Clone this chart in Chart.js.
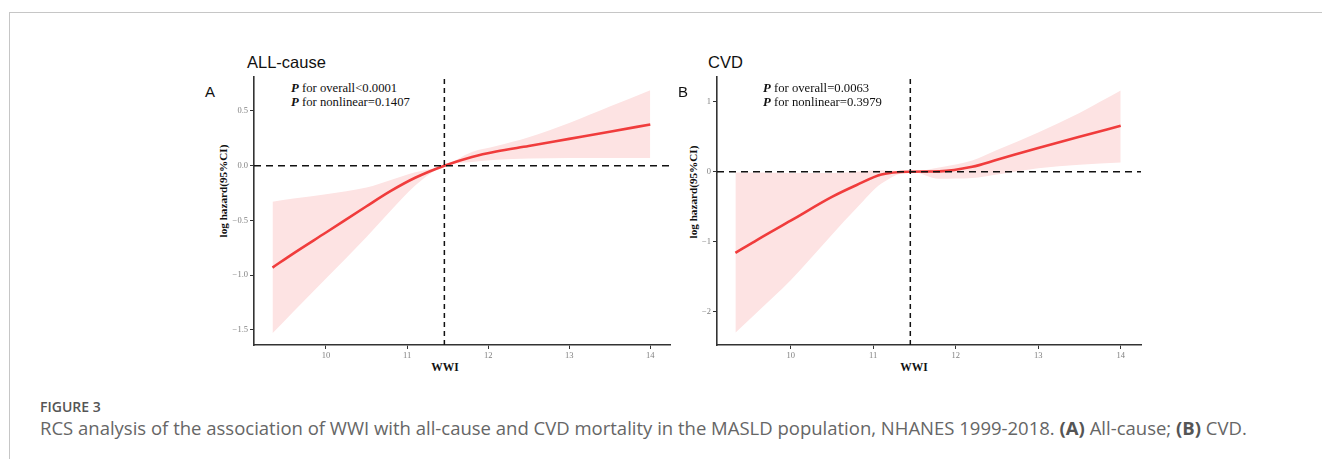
<!DOCTYPE html>
<html>
<head>
<meta charset="utf-8">
<script src="https://cdn.jsdelivr.net/npm/chart.js@4.4.1/dist/chart.umd.min.js"></script>
<style>
  body { margin: 0; background: #fff; }
  #page { position: relative; width: 1322px; height: 459px; overflow: hidden; background: #fff; }
  .frameTop { position: absolute; left: 9px; top: 12px; right: 0; border-top: 1px solid #c6c6c6; }
  .frameLeft { position: absolute; left: 9px; top: 12px; bottom: 0; border-left: 1px solid #c6c6c6; }
  .panel { position: absolute; top: 40px; }
  .title { position: absolute; font-family: "Liberation Sans", Arial, sans-serif; font-size: 16.5px; line-height: 1; color: #111; }
  .letter { position: absolute; font-family: "Liberation Sans", Arial, sans-serif; font-size: 15px; line-height: 1; color: #111; }
  .pval { position: absolute; font-family: "Liberation Serif", "Times New Roman", serif; font-size: 12.7px; line-height: 14px; color: #111; white-space: nowrap; }
  .pval b { font-style: italic; }
  .ytitle { position: absolute; font-family: "Liberation Serif", serif; font-weight: bold; font-size: 11.2px; line-height: 1; color: #111;
            white-space: nowrap; transform: translate(-50%, -50%) rotate(-90deg); }
  .xtitle { position: absolute; font-family: "Liberation Serif", serif; font-weight: bold; font-size: 11.5px; line-height: 1; color: #111;
            white-space: nowrap; transform: translate(-50%, -50%); }
  .figLabel { position: absolute; left: 40px; top: 397px; font-family: "Open Sans", sans-serif; font-size: 14px; font-weight: 600; color: #555; }
  .caption { position: absolute; left: 40px; top: 415px; font-family: "Open Sans", sans-serif; font-size: 18.5px; color: #666; white-space: nowrap; }
  .caption b { color: #555; }
</style>
</head>
<body>
<div id="page">
  <div class="frameTop"></div>
  <div class="frameLeft"></div>

  <div class="title" style="left:247px; top:54px;">ALL-cause</div>
  <div class="letter" style="left:205px; top:84px;">A</div>
  <div class="pval" style="left:291px; top:81px;"><b>P</b> for overall&lt;0.0001<br><b>P</b> for nonlinear=0.1407</div>
  <div class="ytitle" style="left:224px; top:191px;">log hazard(95%CI)</div>
  <div class="xtitle" style="left:445px; top:368px;">WWI</div>
  <div class="panel" style="left:190px;"><canvas id="chartA" width="490" height="340"></canvas></div>

  <div class="title" style="left:708px; top:54px;">CVD</div>
  <div class="letter" style="left:678px; top:84px;">B</div>
  <div class="pval" style="left:763px; top:81px;"><b>P</b> for overall=0.0063<br><b>P</b> for nonlinear=0.3979</div>
  <div class="ytitle" style="left:694px; top:192px;">log hazard(95%CI)</div>
  <div class="xtitle" style="left:914px; top:368px;">WWI</div>
  <div class="panel" style="left:660px;"><canvas id="chartB" width="491" height="340"></canvas></div>

  <div class="figLabel">FIGURE 3</div>
  <div class="caption">RCS analysis of the association of WWI with all-cause and CVD mortality in the MASLD population, NHANES 1999-2018. <b>(A)</b> All-cause; <b>(B)</b> CVD.</div>
</div>

<script>
// WWI values and log hazard with 95% CI

// panel A, all-cause
const wwiA = [9.34, 9.6, 10, 10.5, 10.8, 11.1, 11.46, 11.8, 12.1, 12.5, 13, 13.5, 14];
const hazardA = [-0.93, -0.80, -0.61, -0.37, -0.23, -0.11, 0, 0.08, 0.13, 0.18, 0.245, 0.31, 0.377];
const upperA = [-0.33, -0.30, -0.26, -0.20, -0.13, -0.06, 0, 0.125, 0.18, 0.26, 0.39, 0.54, 0.69];
const lowerA = [-1.53, -1.33, -1.03, -0.65, -0.41, -0.18, 0, 0.035, 0.055, 0.065, 0.07, 0.07, 0.07];
const refA = 11.46;
const yTicksA = [0.5, 0, -0.5, -1, -1.5];

// panel B, CVD
const wwiB = [9.33, 9.6, 10, 10.5, 10.8, 11.1, 11.46, 11.8, 12.2, 12.5, 13, 13.5, 14];
const hazardB = [-1.16, -0.97, -0.70, -0.36, -0.19, -0.04, 0, 0.005, 0.07, 0.17, 0.34, 0.50, 0.655];
const upperB = [-0.01, -0.01, -0.02, -0.02, 0.0, 0.02, 0, 0.06, 0.16, 0.31, 0.56, 0.84, 1.16];
const lowerB = [-2.30, -2.0, -1.55, -0.9, -0.52, -0.17, 0, -0.10, -0.09, -0.04, 0.05, 0.10, 0.13];
const refB = 11.45;
const yTicksB = [1, 0, -1, -2];

const xTicks = [10, 11, 12, 13, 14];

const pts = (xs, ys) => xs.map((x, i) => ({ x: x, y: ys[i] }));
const minus = (s) => s.replace('-', '\u2212');

function makePanel(id, p) {
  const ctx = document.getElementById(id).getContext('2d');
  return new Chart(ctx, {
    type: 'line',
    data: {
      datasets: [
        // reference lines go first so they sit on top
        { data: [{ x: p.xMin, y: 0 }, { x: p.xMax, y: 0 }], borderColor: '#111', borderWidth: 1.6,
          borderDash: [7, 5], pointRadius: 0, fill: false },
        { data: [{ x: p.ref, y: p.yMin }, { x: p.ref, y: p.yMax }], borderColor: '#111', borderWidth: 1.5,
          borderDash: [5, 4], pointRadius: 0, fill: false },
        { data: pts(p.x, p.hazard), borderColor: '#f03c3c', borderWidth: 2.6, pointRadius: 0,
          cubicInterpolationMode: 'monotone', fill: false },
        { data: pts(p.x, p.upper), borderWidth: 0, borderColor: 'rgba(0,0,0,0)', pointRadius: 0,
          cubicInterpolationMode: 'monotone', fill: '+1', backgroundColor: '#fde3e3' },
        { data: pts(p.x, p.lower), borderWidth: 0, borderColor: 'rgba(0,0,0,0)', pointRadius: 0,
          cubicInterpolationMode: 'monotone', fill: false }
      ]
    },
    options: {
      responsive: false,
      animation: false,
      layout: { padding: { left: 26, right: 10, top: 37, bottom: 0 } },
      plugins: { legend: { display: false }, tooltip: { enabled: false } },
      scales: {
        x: {
          type: 'linear', min: p.xMin, max: p.xMax,
          afterFit: (s) => { s.height = 35; },
          afterBuildTicks: (s) => { s.ticks = xTicks.map(v => ({ value: v })); },
          grid: { drawOnChartArea: false, drawTicks: true, tickLength: 4, color: '#333', lineWidth: 1 },
          border: { display: true, color: '#333', width: 1.6 },
          ticks: { color: '#808080', padding: 2, font: { family: 'Liberation Serif', size: 8.5 },
                   callback: (v) => String(v) }
        },
        y: {
          type: 'linear', min: p.yMin, max: p.yMax,
          afterFit: (s) => { s.width = p.yWidth; },
          afterBuildTicks: (s) => { s.ticks = p.yTicks.map(v => ({ value: v })); },
          grid: { drawOnChartArea: false, drawTicks: true, tickLength: 4, color: '#333', lineWidth: 1 },
          border: { display: true, color: '#333', width: 1.6 },
          ticks: { color: '#808080', padding: 2, font: { family: 'Liberation Serif', size: 8.5 },
                   callback: (v) => minus(p.fmt(v)) }
        }
      }
    }
  });
}

makePanel('chartA', {
  x: wwiA, hazard: hazardA, upper: upperA, lower: lowerA, ref: refA, yTicks: yTicksA,
  xMin: 9.112, xMax: 14.243, yMin: -1.637, yMax: 0.81, yWidth: 38,
  fmt: (v) => v.toFixed(1)
});

makePanel('chartB', {
  x: wwiB, hazard: hazardB, upper: upperB, lower: lowerB, ref: refB, yTicks: yTicksB,
  xMin: 9.107, xMax: 14.246, yMin: -2.476, yMax: 1.353, yWidth: 31,
  fmt: (v) => v.toFixed(0)
});
</script>
</body>
</html>
